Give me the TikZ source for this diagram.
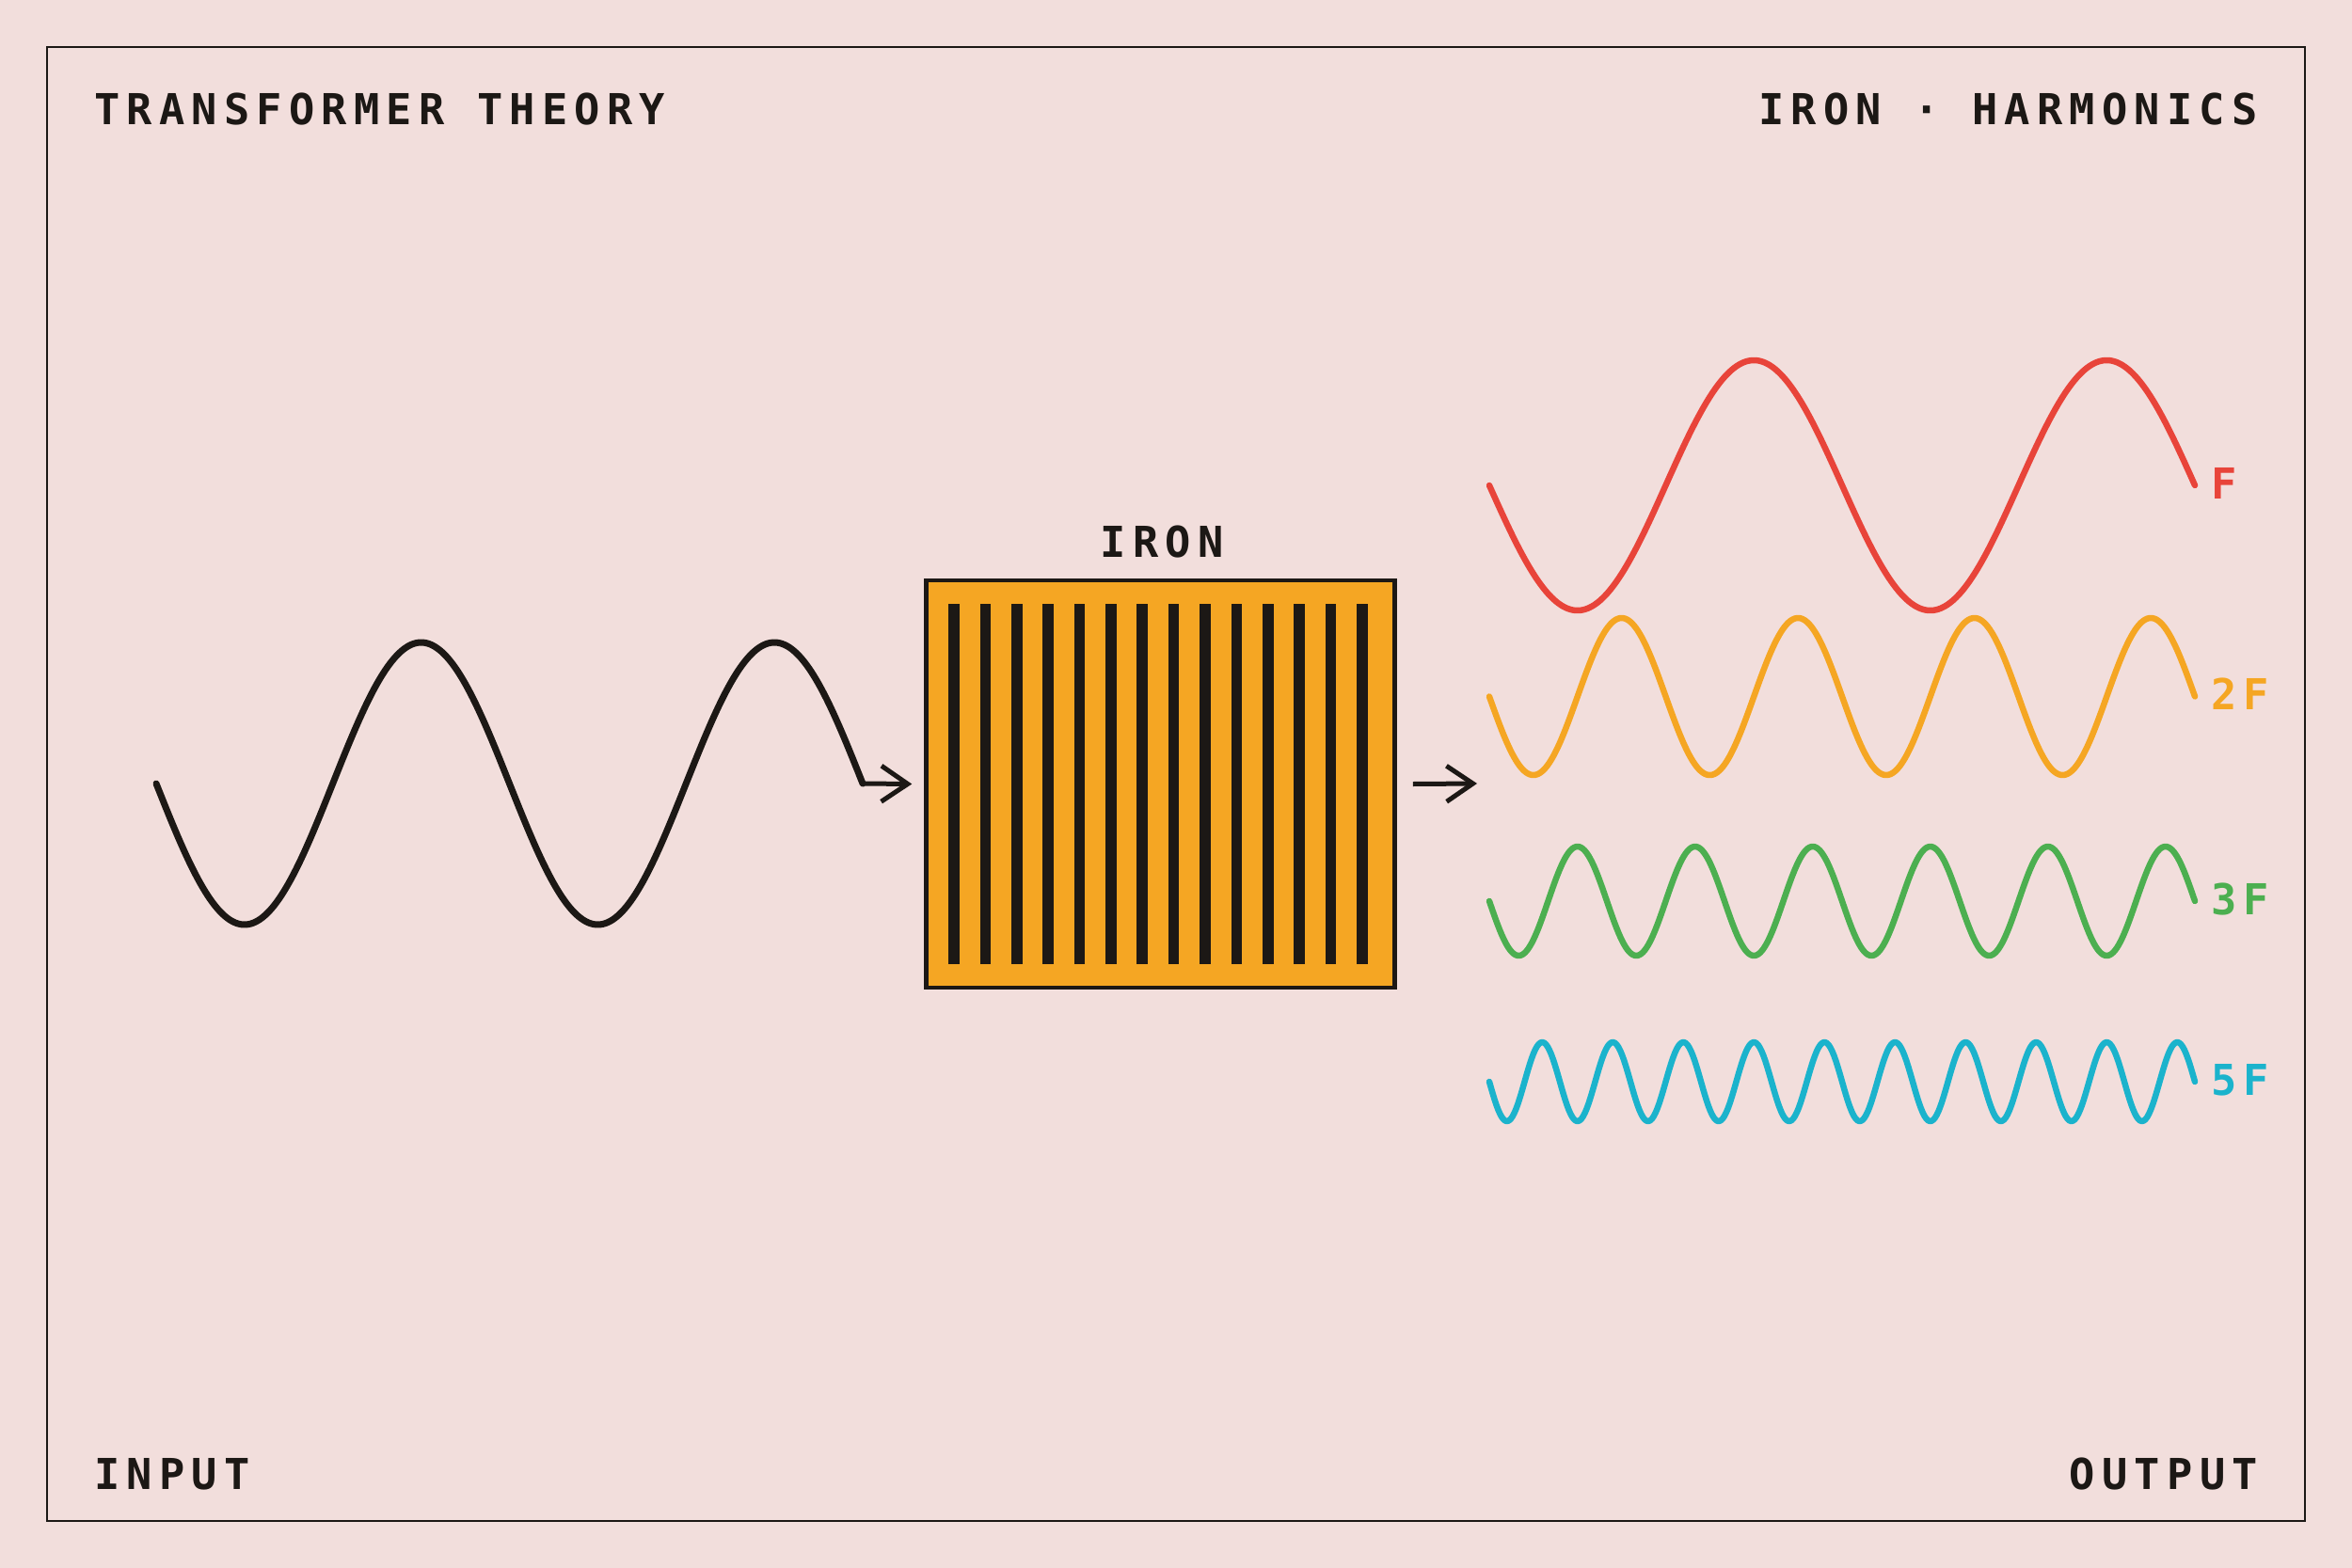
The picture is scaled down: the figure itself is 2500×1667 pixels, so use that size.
\documentclass[tikz,border=0pt]{standalone}
\usepackage{fontspec}
\usetikzlibrary{arrows.meta}
\newfontfamily\lblfont[LetterSpace=16,BoldFont={DejaVu Sans Mono Bold}]{DejaVu Sans Mono}
\definecolor{bg}{HTML}{F2DEDC}
\definecolor{ink}{HTML}{1C1815}
\definecolor{ironfill}{HTML}{F5A623}
\definecolor{cF}{HTML}{E8443A}
\definecolor{c2F}{HTML}{F5A623}
\definecolor{c3F}{HTML}{4CAF50}
\definecolor{c5F}{HTML}{1BB3CC}
\begin{document}
\begin{tikzpicture}[x=1pt,y=-1pt,
  lbl/.style={font=\lblfont\bfseries\fontsize{45.3}{50}\selectfont, text=ink, inner sep=0pt},
  wave/.style={line width=6.5pt, line cap=round, line join=round},
  arr/.style={draw=ink, line width=5pt, -{Straight Barb[length=28pt,width=38pt]}}]
\useasboundingbox (0,0) rectangle (2500,1667);
\fill[bg] (0,0) rectangle (2500,1667);
\draw[ink, line width=2.5pt] (50,50) rectangle (2450,1617);
% texts
\node[lbl, anchor=base west] (title) at (100,133) {TRANSFORMER THEORY};
\node[lbl, anchor=base east] (subtitle) at (2400,133) {IRON · HARMONICS};
\node[lbl, anchor=base west] (input) at (100,1583) {INPUT};
\node[lbl, anchor=base east] (output) at (2400,1583) {OUTPUT};
\node[lbl, anchor=base] (ironlbl) at (1235,592.5) {IRON};
% iron core
\node[draw=ink, fill=ironfill, line width=4.5pt, minimum width=498pt, minimum height=433pt, inner sep=0pt] (iron) at (1233.5,833.5) {};
\foreach \i in {0,...,13} \fill[ink] ({1008.2+\i*33.38},642) rectangle ++(11.6,383);
% input wave
\draw[wave, draw=ink, line width=7pt] plot[domain=166:917, samples=300] (\x,{833+150*sin(((\x-166)/375.5)*360)});
\coordinate (inend) at (917,833);
\draw[arr] (inend) -- ([xshift=-13pt]iron.west);
% output
\coordinate (wstart) at (1583,833);
\draw[arr] ([xshift=17pt]iron.east) -- ([xshift=-13pt]wstart);
\foreach \n/\c/\yc/\a/\col in {2/F/516/133/cF, 4/2F/740.5/83.5/c2F, 6/3F/958/58/c3F, 10/5F/1150/42/c5F} {
  \draw[wave, draw=\col] plot[domain=1583:2333, samples=400] (\x,{\yc+\a*sin(((\x-1583)/750)*360*\n)});
  \node[lbl, text=\col, anchor=base west] (lbl\c) at (2350,{\yc+14}) {\c};
}
\end{tikzpicture}
\end{document}
